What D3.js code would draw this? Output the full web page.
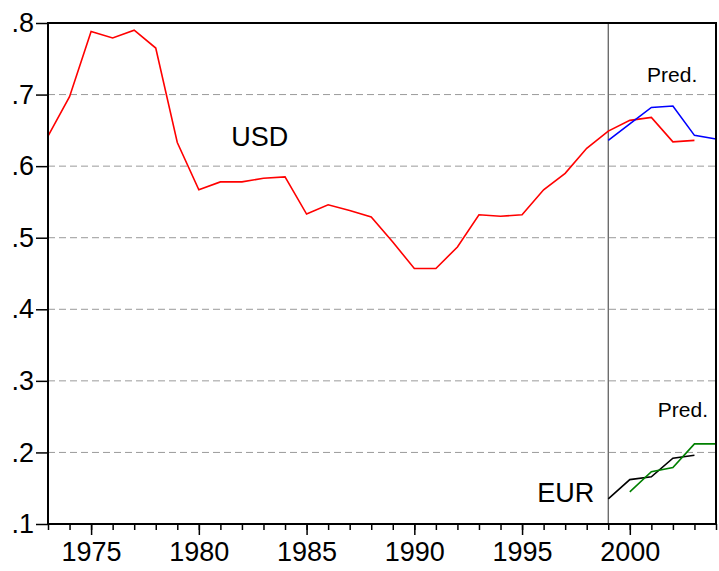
<!DOCTYPE html>
<html>
<head>
<meta charset="utf-8">
<script src="https://cdn.jsdelivr.net/npm/d3@7"></script>
<style>
  body { margin: 0; background: #fff; }
  text { font-family: "Liberation Sans", Arial, Helvetica, sans-serif; fill: #000; }
</style>
</head>
<body>
<div id="chart"></div>
<script>
// data
var usdYears = d3.range(1973, 2004)
var usd = [0.642, 0.697, 0.788, 0.779, 0.790, 0.765, 0.633, 0.567, 0.578, 0.578,
  0.583, 0.585, 0.533, 0.546, 0.538, 0.529, 0.494, 0.457, 0.457, 0.487,
  0.532, 0.530, 0.532, 0.567, 0.590, 0.625, 0.649, 0.664, 0.668, 0.634, 0.636]
var usdPredYears = [1999, 2000, 2001, 2002, 2003, 2004]
var usdPred = [0.636, 0.659, 0.682, 0.684, 0.643, 0.638]
var eurYears = [1999, 2000, 2001, 2002, 2003]
var eur = [0.135, 0.162, 0.166, 0.192, 0.196]
var eurPredYears = [2000, 2001, 2002, 2003, 2004]
var eurPred = [0.145, 0.173, 0.179, 0.212, 0.212]
var yTicks = [0.1, 0.2, 0.3, 0.4, 0.5, 0.6, 0.7, 0.8]
var xLabels = [1975, 1980, 1985, 1990, 1995, 2000]
var breakYear = 1999

var width = 719
var height = 571
var margin = { top: 23, right: 3, bottom: 47, left: 48 }

var svg = d3.select("#chart")
  .append("svg")
  .attr("width", width)
  .attr("height", height)

var xScale = d3.scaleLinear()
  .domain([1973, 2004])
  .range([margin.left, width - margin.right])

var yScale = d3.scaleLinear()
  .domain([0.1, 0.8])
  .range([height - margin.bottom, margin.top])

// grid lines
svg.append("g")
  .selectAll("line")
  .data(yTicks.filter(d => d > 0.1 && d < 0.8))
  .enter()
  .append("line")
  .attr("x1", margin.left)
  .attr("x2", width - margin.right)
  .attr("y1", d => yScale(d))
  .attr("y2", d => yScale(d))
  .style("stroke", "#9a9a9a")
  .style("stroke-width", 1)
  .style("stroke-dasharray", "7,4")

// vertical break line
svg.append("line")
  .attr("x1", xScale(breakYear))
  .attr("x2", xScale(breakYear))
  .attr("y1", margin.top)
  .attr("y2", height - margin.bottom)
  .style("stroke", "#555")
  .style("stroke-width", 1.2)

var line = d3.line()
  .x(d => xScale(d[0]))
  .y(d => yScale(d[1]))

function drawSeries(years, values, color) {
  svg.append("path")
    .datum(d3.zip(years, values))
    .attr("d", line)
    .style("fill", "none")
    .style("stroke", color)
    .style("stroke-width", 1.6)
}

drawSeries(usdYears, usd, "#ff0000")
drawSeries(usdPredYears, usdPred, "#0000ff")
drawSeries(eurYears, eur, "#000000")
drawSeries(eurPredYears, eurPred, "#008000")

// frame
svg.append("rect")
  .attr("x", margin.left)
  .attr("y", margin.top)
  .attr("width", width - margin.right - margin.left)
  .attr("height", height - margin.bottom - margin.top)
  .style("fill", "none")
  .style("stroke", "#000")
  .style("stroke-width", 2)

// Y axis
var yAxis = d3.axisLeft(yScale)
  .tickValues(yTicks)
  .tickSize(12)
  .tickPadding(2)
  .tickFormat(d => d3.format(".1f")(d).replace(/^0/, ""))

svg.append("g")
  .attr("transform", `translate(${margin.left},0)`)
  .call(yAxis)
  .call(g => g.select(".domain").remove())
  .call(g => g.selectAll(".tick line").style("stroke", "#000").style("stroke-width", 1.5))
  .selectAll("text")
  .style("font-size", "27px")
  .style("font-family", '"Liberation Sans", Arial, sans-serif')

// X axis: minor ticks every year, long ticks every five
var xMinor = d3.axisBottom(xScale)
  .tickValues(d3.range(1973, 2005))
  .tickSize(6)
  .tickFormat("")

svg.append("g")
  .attr("transform", `translate(0,${height - margin.bottom})`)
  .call(xMinor)
  .call(g => g.select(".domain").remove())
  .call(g => g.selectAll(".tick line").style("stroke", "#000").style("stroke-width", 1.5))

var xAxis = d3.axisBottom(xScale)
  .tickValues(xLabels)
  .tickSize(11)
  .tickPadding(7)
  .tickFormat(d3.format("d"))

svg.append("g")
  .attr("transform", `translate(0,${height - margin.bottom})`)
  .call(xAxis)
  .call(g => g.select(".domain").remove())
  .call(g => g.selectAll(".tick line").style("stroke", "#000").style("stroke-width", 1.5))
  .selectAll("text")
  .style("font-size", "27px")
  .style("font-family", '"Liberation Sans", Arial, sans-serif')

// labels
svg.append("text")
  .attr("x", xScale(1981.5))
  .attr("y", yScale(0.628))
  .style("font-size", "27px")
  .text("USD")

svg.append("text")
  .attr("x", xScale(2000.8))
  .attr("y", yScale(0.717))
  .style("font-size", "21px")
  .text("Pred.")

svg.append("text")
  .attr("x", xScale(2001.3))
  .attr("y", yScale(0.250))
  .style("font-size", "21px")
  .text("Pred.")

svg.append("text")
  .attr("x", xScale(1995.7))
  .attr("y", yScale(0.131))
  .style("font-size", "27px")
  .text("EUR")
</script>
</body>
</html>
